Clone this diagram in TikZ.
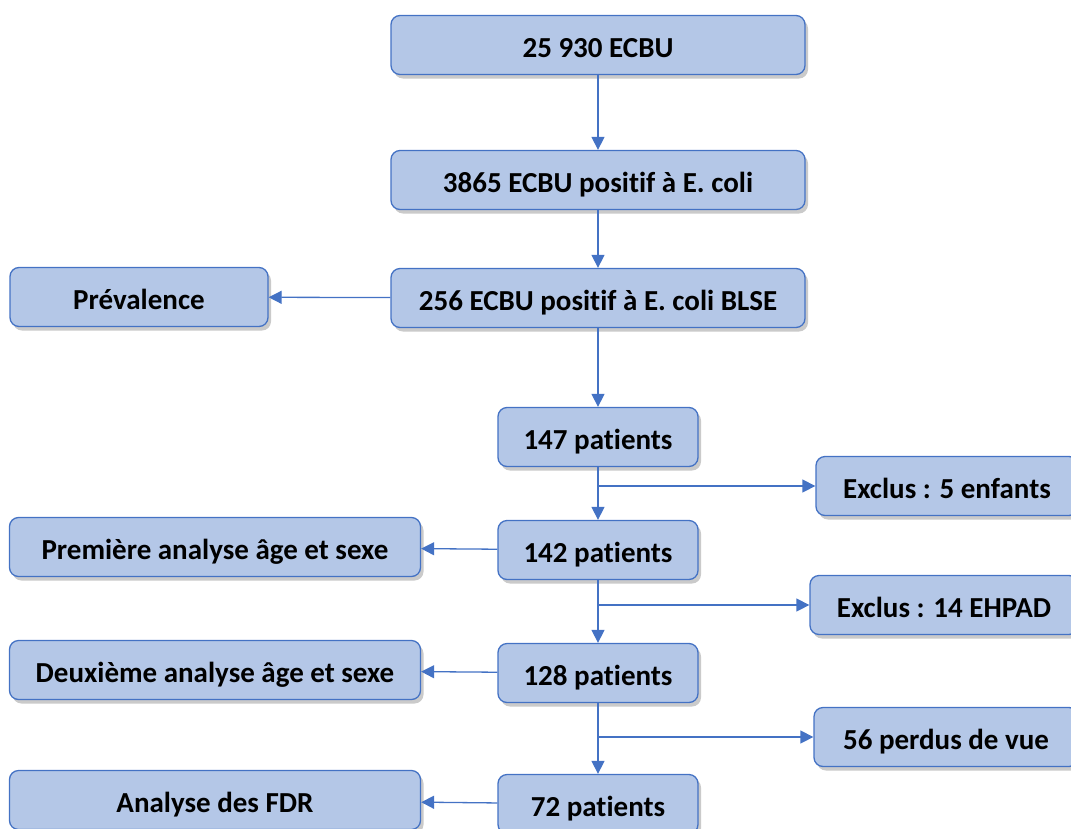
\documentclass[tikz,border=0pt]{standalone}
\usepackage{fontspec}
\setmainfont{Carlito}[Ligatures=NoCommon]
\usetikzlibrary{arrows.meta, positioning, shadows}

\definecolor{boxfill}{HTML}{B4C7E7}
\definecolor{boxline}{HTML}{4472C4}

\begin{document}
\begin{tikzpicture}[
    x=1pt, y=-1pt,
    block/.style = {
        rectangle,
        rounded corners=9pt,
        draw=boxline,
        line width=1.3pt,
        fill=boxfill,
        align=center,
        font=\fontsize{29}{35}\selectfont\bfseries,
        text height=28pt,
        text depth=3.4pt,
        minimum height=59pt,
        drop shadow={shadow xshift=3pt, shadow yshift=-4pt, opacity=0.35, fill=black!60}
    },
    link/.style = {
        draw=boxline,
        line width=1.3pt,
        -{Triangle[length=13pt, width=13pt]}
    }
]
\useasboundingbox (0,0) rectangle (1071,828);

% Main column
\node[block, minimum width=414pt] (ecbu)  at (598,45)  {25 930 ECBU};
\node[block, minimum width=414pt] (coli)  at (598,180) {3865 ECBU positif à E. coli};
\node[block, minimum width=414pt] (blse)  at (598,298) {256 ECBU positif à E. coli BLSE};
\node[block, minimum width=200pt] (p147)  at (598,437) {147 patients};
\node[block, minimum width=200pt] (p142)  at (598,550) {142 patients};
\node[block, minimum width=200pt] (p128)  at (598,673) {128 patients};
\node[block, minimum width=200pt] (p72)   at (598,804) {72 patients};

% Left column
\node[block, minimum width=258pt] (prev)  at (139,297) {Prévalence};
\node[block, minimum width=411pt] (ana1)  at (215,547) {Première analyse âge et sexe};
\node[block, minimum width=411pt] (ana2)  at (215,670) {Deuxième analyse âge et sexe};
\node[block, minimum width=411pt] (fdr)   at (215,800) {Analyse des FDR};

% Right column (exclusions)
\node[block, minimum width=262pt] (excl5)  at (947,486) {Exclus : 5 enfants};
\node[block, minimum width=268pt] (excl14) at (944,605) {Exclus : 14 EHPAD};
\node[block, minimum width=264pt] (lost)   at (946,737) {56 perdus de vue};

% Branch points
\coordinate (k5)  at (p147.south |- excl5.west);
\coordinate (k14) at (p142.south |- excl14.west);
\coordinate (k56) at (p128.south |- lost.west);

% Arrows (main pipeline)
\draw[link] (ecbu) -- (coli);
\draw[link] (coli) -- (blse);
\draw[link] (blse) -- (p147);
\draw[link] (p147) -- (p142);
\draw[link] (p142) -- (p128);
\draw[link] (p128) -- (p72);

% Exclusions
\draw[link] (k5) -- (excl5);
\draw[link] (k14) -- (excl14);
\draw[link] (k56) -- (lost);

% Analyses
\draw[link] (blse) -- (prev);
\draw[link] (p142) -- (ana1);
\draw[link] (p128) -- (ana2);
\draw[link] (p72) -- (fdr);

\end{tikzpicture}
\end{document}
